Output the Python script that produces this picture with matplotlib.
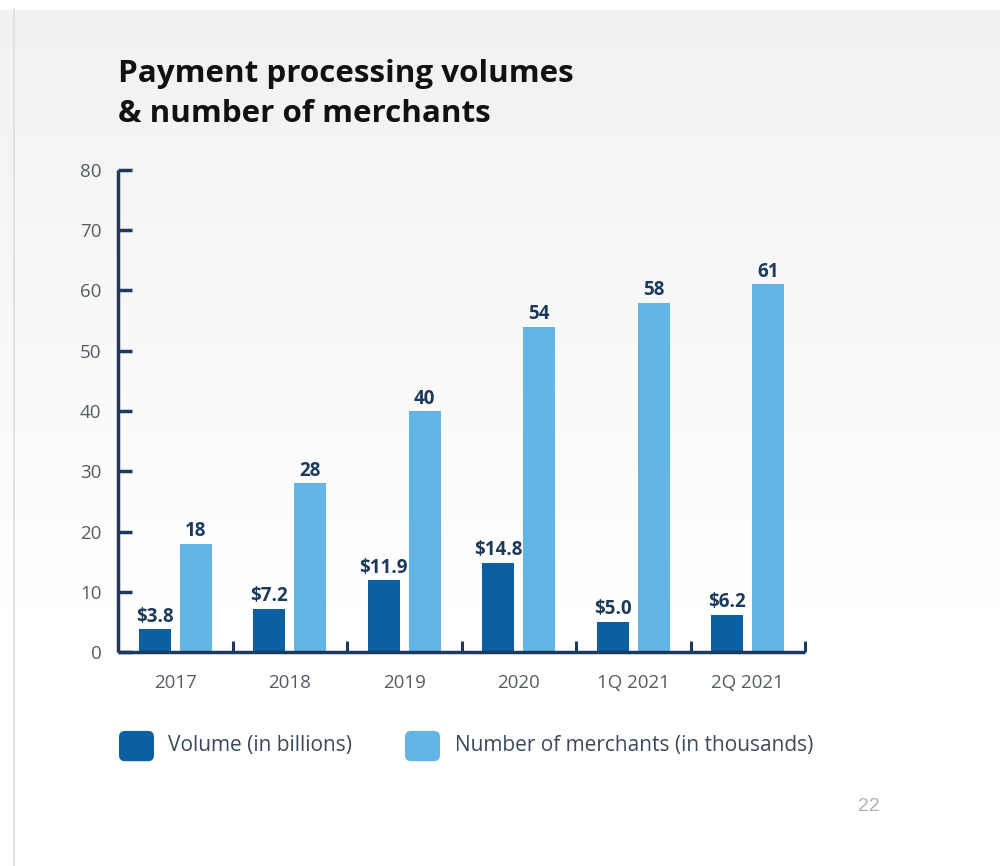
import numpy as np
import matplotlib.pyplot as plt
from matplotlib.patches import FancyBboxPatch

# ---------------------------
# Data
# ---------------------------
categories = ["2017", "2018", "2019", "2020", "1Q 2021", "2Q 2021"]
volume = [3.8, 7.2, 11.9, 14.8, 5.0, 6.2]          # $ billions
merchants = [18, 28, 40, 54, 58, 61]               # thousands
volume_labels = ["$3.8", "$7.2", "$11.9", "$14.8", "$5.0", "$6.2"]
y_ticks = [0, 10, 20, 30, 40, 50, 60, 70, 80]

dark_blue = "#0b5fa3"
light_blue = "#63b5e7"
axis_color = "#1c3a5e"
label_color = "#1b3a5c"
tick_color = "#555b62"

plt.rcParams['font.family'] = ['Open Sans', 'DejaVu Sans']

fig = plt.figure(figsize=(10, 8.66), dpi=100)

# ---------------------------
# Slide background (soft grey gradient, white below)
# ---------------------------
bg = fig.add_axes([0, 0, 1, 1], zorder=-10)
col = np.concatenate([np.linspace(0.945, 1.0, 280), np.ones(120)])
bg.imshow(np.repeat(col[:, None, None], 3, axis=2).repeat(2, axis=1),
          aspect='auto', extent=[0, 1, 0, 1], origin='upper')
bg.axhspan(0.99, 1.0, color="white")
bg.axvline(0.014, ymin=0, ymax=0.99, color="#dddddd", lw=1.2)
bg.set_xlim(0, 1)
bg.set_ylim(0, 1)
bg.axis("off")

# ---------------------------
# Bars
# ---------------------------
ax = fig.add_axes([0.118, 0.2471, 0.687, 0.5566])
ax.patch.set_alpha(0)

x = np.arange(len(categories))
w = 0.28
off = 0.179
ax.bar(x - off, volume, width=w, color=dark_blue, zorder=2)
ax.bar(x + off, merchants, width=w, color=light_blue, zorder=2)

for i in range(len(categories)):
    ax.text(x[i] - off, volume[i] + 0.4, volume_labels[i], ha="center", va="bottom",
            fontsize=13.5, fontweight="bold", color=label_color)
    ax.text(x[i] + off, merchants[i] + 0.4, str(merchants[i]), ha="center", va="bottom",
            fontsize=13.5, fontweight="bold", color=label_color)

ax.set_xlim(-0.5, len(categories) - 0.5)
ax.set_ylim(0, 80)
ax.set_yticks(y_ticks)
ax.set_xticks(x)
ax.set_xticklabels(categories)
ax.set_xticks(np.arange(0.5, len(categories), 1.0), minor=True)

for s in ["top", "right"]:
    ax.spines[s].set_visible(False)
for s in ["left", "bottom"]:
    ax.spines[s].set_color(axis_color)
    ax.spines[s].set_linewidth(2.5)
    ax.spines[s].set_capstyle("butt")

ax.tick_params(axis="y", direction="in", length=10, width=2.5, color=axis_color,
               labelsize=13.5, labelcolor=tick_color, pad=12)
ax.tick_params(axis="x", which="major", length=0, labelsize=13.5,
               labelcolor=tick_color, pad=16)
ax.tick_params(axis="x", which="minor", direction="in", length=8, width=2.2,
               color=axis_color)

# ---------------------------
# Title
# ---------------------------
fig.text(0.118, 0.915, "Payment processing volumes", fontsize=22.6, fontweight="bold",
         color="#111111", va="center", ha="left")
fig.text(0.118, 0.868, "& number of merchants", fontsize=22.6, fontweight="bold",
         color="#111111", va="center", ha="left")

# ---------------------------
# Legend (rounded swatches)
# ---------------------------
legend_items = [("Volume (in billions)", dark_blue, 0.119, 0.168),
                ("Number of merchants (in thousands)", light_blue, 0.405, 0.455)]
for text, c, sx, tx in legend_items:
    sw = FancyBboxPatch((sx, 0.121), 0.035, 0.035, boxstyle="round,pad=0,rounding_size=0.006",
                        transform=fig.transFigure, facecolor=c, edgecolor="none",
                        mutation_aspect=1.155)
    fig.patches.append(sw)
    fig.text(tx, 0.139, text, fontsize=15, color="#3b4a5a", va="center", ha="left")

fig.text(0.869, 0.069, "22", fontsize=14, color="#b0b0b0", va="center", ha="center",
         family="Liberation Sans")

fig.savefig("out.png", dpi=100)
